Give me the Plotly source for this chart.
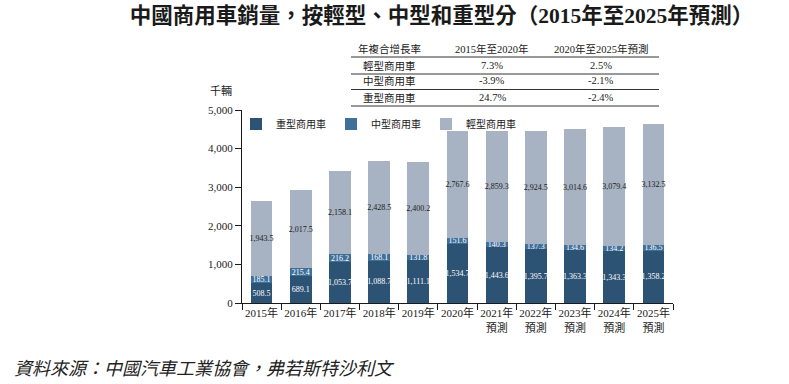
import plotly.graph_objects as go

years = ["2015年", "2016年", "2017年", "2018年", "2019年", "2020年",
         "2021年<br>預測", "2022年<br>預測", "2023年<br>預測", "2024年<br>預測", "2025年<br>預測"]
heavy = [508.5, 689.1, 1053.7, 1088.7, 1111.1, 1534.7, 1443.6, 1395.7, 1363.3, 1343.3, 1358.2]
medium = [185.1, 215.4, 216.2, 168.1, 131.8, 151.6, 140.3, 137.3, 134.6, 134.2, 136.5]
light = [1943.5, 2017.5, 2158.1, 2428.5, 2400.2, 2767.6, 2859.3, 2924.5, 3014.6, 3079.4, 3132.5]

series_names = ["重型商用車", "中型商用車", "輕型商用車"]
cagr_header = ["年複合增長率", "2015年至2020年", "2020年至2025年預測"]
cagr_rows = [["輕型商用車", "7.3%", "2.5%"],
             ["中型商用車", "-3.9%", "-2.1%"],
             ["重型商用車", "24.7%", "-2.4%"]]

SERIF = "Liberation Serif, Noto Sans CJK TC, serif"
CJK = "Noto Sans CJK TC, sans-serif"

colors = ["#2c5274", "#3f709a", "#a7b2c2"]
text_colors = ["white", "white", "#1a1a1a"]
data = [heavy, medium, light]

def fmt(v):
    return f"{v:,.1f}"

fig = go.Figure()
for name, vals, c, tc in zip(series_names, data, colors, text_colors):
    fig.add_trace(go.Bar(
        x=years, y=vals, name=name, marker=dict(color=c, line=dict(width=0)),
        text=[fmt(v) for v in vals], textposition="inside", insidetextanchor="middle",
        textangle=0, constraintext="none",
        textfont=dict(family=SERIF, size=8, color=tc),
        hoverinfo="skip",
    ))

W, H = 789, 384
L, R, T, B = 242, 116, 110, 81
pw, ph = W - L - R, H - T - B

def px(x):
    return (x - L) / pw

def py(y):
    return (H - B - y) / ph

annotations = []
col_x = [389, 492, 601]
row_y = [49, 65.5, 81, 97.5]
for j, txt in enumerate(cagr_header):
    annotations.append(dict(x=px(col_x[j]), y=py(row_y[0]), xref="paper", yref="paper",
                            text=txt, showarrow=False, xanchor="center", yanchor="middle",
                            font=dict(family=SERIF, size=10.5, color="#1a1a1a")))
for i, row in enumerate(cagr_rows):
    for j, txt in enumerate(row):
        annotations.append(dict(x=px(col_x[j]), y=py(row_y[i + 1]), xref="paper", yref="paper",
                                text=txt, showarrow=False, xanchor="center", yanchor="middle",
                                font=dict(family=SERIF, size=10.5, color="#1a1a1a")))

shapes = []
for ly in [57, 74, 89.5, 106]:
    shapes.append(dict(type="line", xref="paper", yref="paper",
                       x0=px(351), x1=px(659), y0=py(ly), y1=py(ly),
                       line=dict(color="#333333", width=1)))

annotations.append(dict(x=px(208), y=py(90), xref="paper", yref="paper", text="千輛",
                        showarrow=False, xanchor="left", yanchor="middle",
                        font=dict(family=CJK, size=11, color="#1a1a1a")))
annotations.append(dict(x=px(12), y=py(367), xref="paper", yref="paper",
                        text="資料來源：中國汽車工業協會，弗若斯特沙利文",
                        showarrow=False, xanchor="left", yanchor="middle",
                        font=dict(family=CJK, size=18, color="#222222", style="italic")))

fig.update_layout(
    width=W, height=H, barmode="stack", bargap=0.446,
    margin=dict(l=L, r=R, t=T, b=B),
    paper_bgcolor="white", plot_bgcolor="white",
    title=dict(text="<b>中國商用車銷量，按輕型、中型和重型分（2015年至2025年預測）</b>",
               x=(130 + 753) / 2 / W, xanchor="center", y=1 - 15 / H, yanchor="middle",
               font=dict(family=SERIF, size=21.5, color="#1a1a1a")),
    legend=dict(orientation="h", x=px(236), y=py(124), xanchor="left", yanchor="middle",
                traceorder="normal",
                font=dict(family=CJK, size=10, color="#1a1a1a"), bgcolor="rgba(0,0,0,0)",
                itemwidth=30, entrywidth=50, tracegroupgap=0),
    annotations=annotations, shapes=shapes,
    showlegend=True,
)
fig.update_xaxes(showline=True, linecolor="#1a1a1a", linewidth=1, ticks="outside",
                 tickson="boundaries", ticklen=6, tickcolor="#1a1a1a", tickangle=0,
                 tickfont=dict(family=SERIF, size=11, color="#1a1a1a"), showgrid=False)
fig.update_yaxes(range=[0, 5000], tickvals=[0, 1000, 2000, 3000, 4000, 5000],
                 tickformat=",d", showline=True, linecolor="#1a1a1a", linewidth=1,
                 ticks="outside", ticklen=6, tickcolor="#1a1a1a", showgrid=False,
                 zeroline=False, tickfont=dict(family=SERIF, size=11, color="#1a1a1a"))

fig.write_html("out.html", config={"displayModeBar": False},
               post_script="document.body.style.margin='0';document.body.style.overflow='hidden';")
